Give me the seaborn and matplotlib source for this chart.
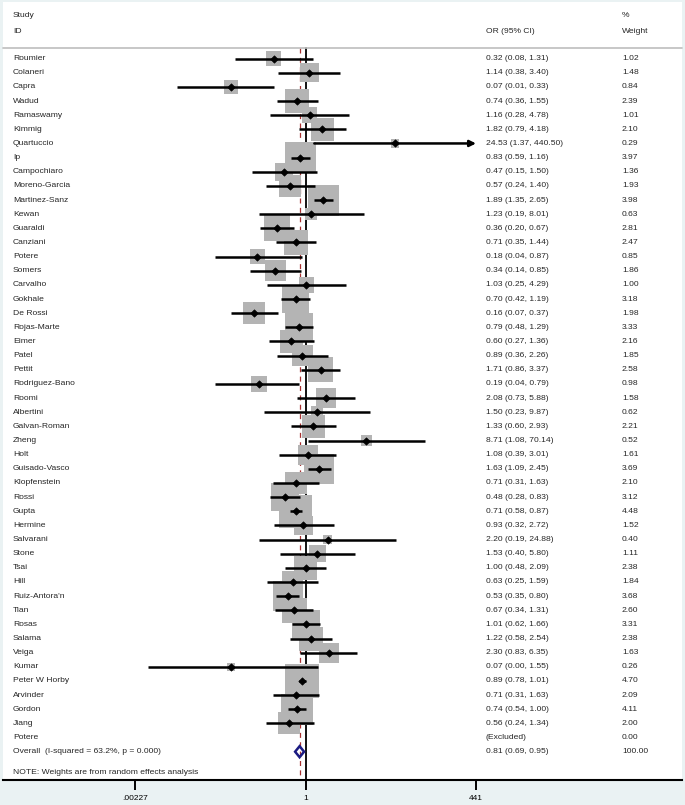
import numpy as np
import pandas as pd
import matplotlib
matplotlib.use("Agg")
import matplotlib.pyplot as plt
import seaborn as sns
from matplotlib.transforms import blended_transform_factory
from matplotlib.patches import Polygon
from matplotlib.ticker import NullLocator

# ---------------- data ----------------
studies = ["Roumier", "Colaneri", "Capra", "Wadud", "Ramaswamy", "Kimmig", "Quartuccio", "Ip",
           "Campochiaro", "Moreno-Garcia", "Martinez-Sanz", "Kewan", "Guaraldi", "Canziani",
           "Potere", "Somers", "Carvalho", "Gokhale", "De Rossi", "Rojas-Marte", "Eimer", "Patel",
           "Pettit", "Rodriguez-Bano", "Roomi", "Albertini", "Galvan-Roman", "Zheng", "Holt",
           "Guisado-Vasco", "Klopfenstein", "Rossi", "Gupta", "Hermine", "Salvarani", "Stone",
           "Tsai", "Hill", "Ruiz-Antora'n", "Tian", "Rosas", "Salama", "Veiga", "Kumar",
           "Peter W Horby", "Arvinder", "Gordon", "Jiang", "Potere"]
odds = [0.32, 1.14, 0.07, 0.74, 1.16, 1.82, 24.53, 0.83, 0.47, 0.57, 1.89, 1.23, 0.36, 0.71,
        0.18, 0.34, 1.03, 0.70, 0.16, 0.79, 0.60, 0.89, 1.71, 0.19, 2.08, 1.50, 1.33, 8.71, 1.08,
        1.63, 0.71, 0.48, 0.71, 0.93, 2.20, 1.53, 1.00, 0.63, 0.53, 0.67, 1.01, 1.22, 2.30, 0.07,
        0.89, 0.71, 0.74, 0.56, np.nan]
ci_low = [0.08, 0.38, 0.01, 0.36, 0.28, 0.79, 1.37, 0.59, 0.15, 0.24, 1.35, 0.19, 0.20, 0.35,
          0.04, 0.14, 0.25, 0.42, 0.07, 0.48, 0.27, 0.36, 0.86, 0.04, 0.73, 0.23, 0.60, 1.08, 0.39,
          1.09, 0.31, 0.28, 0.58, 0.32, 0.19, 0.40, 0.48, 0.25, 0.35, 0.34, 0.62, 0.58, 0.83, 0.0036,
          0.78, 0.31, 0.54, 0.24, np.nan]
ci_high = [1.31, 3.40, 0.33, 1.55, 4.78, 4.18, 440.50, 1.16, 1.50, 1.40, 2.65, 8.01, 0.67, 1.44,
           0.87, 0.85, 4.29, 1.19, 0.37, 1.29, 1.36, 2.26, 3.37, 0.79, 5.88, 9.87, 2.93, 70.14, 3.01,
           2.45, 1.63, 0.83, 0.87, 2.72, 24.88, 5.80, 2.09, 1.59, 0.80, 1.31, 1.66, 2.54, 6.35, 1.55,
           1.01, 1.63, 1.00, 1.34, np.nan]
weights = [1.02, 1.48, 0.84, 2.39, 1.01, 2.10, 0.29, 3.97, 1.36, 1.93, 3.98, 0.63, 2.81, 2.47,
           0.85, 1.86, 1.00, 3.18, 1.98, 3.33, 2.16, 1.85, 2.58, 0.98, 1.58, 0.62, 2.21, 0.52, 1.61,
           3.69, 2.10, 3.12, 4.48, 1.52, 0.40, 1.11, 2.38, 1.84, 3.68, 2.60, 3.31, 2.38, 1.63, 0.26,
           4.70, 2.09, 4.11, 2.00, 0.00]

overall_label = "Overall  (I-squared = 63.2%, p = 0.000)"
overall_or, overall_low, overall_high, overall_weight = 0.81, 0.69, 0.95, 100.00
note_text = "NOTE: Weights are from random effects analysis"
header_left = ["Study", "ID"]
header_mid = "OR (95% CI)"
header_right = ["%", "Weight"]
tick_values = [1 / 440.5, 1, 440.5]
tick_labels = [".00227", "1", "441"]

# ---------------- layout ----------------
W, H = 685, 805
BG = "#EAF2F3"
sns.set_theme(style="white")
plt.rcParams["font.family"] = ["Liberation Sans", "DejaVu Sans"]

fig = plt.figure(figsize=(W / 100, H / 100), dpi=100, facecolor=BG)
ax_l, ax_r, ax_t, ax_b = 3, 682, 2, 780
ax = fig.add_axes([ax_l / W, (H - ax_b) / H, (ax_r - ax_l) / W, (ax_b - ax_t) / H])
ax.set_facecolor("white")

# log-x axis: range of the CI scale occupies fractions f0..f1 of the panel
f0 = (135 - ax_l) / (ax_r - ax_l)
f1 = (476 - ax_l) / (ax_r - ax_l)
lmin, lmax = np.log10(tick_values[0]), np.log10(tick_values[-1])
span = (lmax - lmin) / (f1 - f0)
xlo = lmin - f0 * span
ax.set_xscale("log")
ax.set_xlim(10 ** xlo, 10 ** (xlo + span))
ax.set_ylim(51.0, -4.0)

n = len(studies)
df = pd.DataFrame({"study": studies, "or": odds, "low": ci_low, "high": ci_high,
                   "weight": weights, "row": np.arange(n, dtype=float)})
valid = df.dropna().copy()
overall_row = n
note_row = n + 1.5
header_line_y = -0.74

# reference lines
ax.plot([1, 1], [header_line_y, 51.0], color="black", lw=1.3, zorder=1)
ax.plot([overall_or, overall_or], [header_line_y, 51.0], color="#a83232", lw=0.9,
        dashes=(4, 3.5), zorder=1)

# weight boxes
sns.scatterplot(data=valid, x="or", y="row", marker="s", s=(valid["weight"] * 125).to_numpy(),
                color="#b4b4b4", edgecolor="none", linewidth=0, ax=ax, zorder=2, legend=False)

# CI lines (arrow when CI reaches the plot limit)
xmax_ci = tick_values[-1]
for _, r in valid.iterrows():
    if r["high"] >= xmax_ci:
        ax.annotate("", xy=(r["high"], r["row"]), xytext=(r["low"], r["row"]),
                    arrowprops=dict(arrowstyle="-|>", color="black", lw=1.8,
                                    mutation_scale=9, shrinkA=0, shrinkB=0), zorder=3)
    else:
        ax.plot([r["low"], r["high"]], [r["row"], r["row"]], color="black", lw=1.8,
                solid_capstyle="butt", zorder=3)

# point estimates
sns.scatterplot(data=valid, x="or", y="row", marker="D", s=14, color="black",
                edgecolor="black", linewidth=0.5, ax=ax, zorder=4, legend=False)

# overall diamond
dh = 0.39
diamond = Polygon([(overall_low, overall_row), (overall_or, overall_row - dh),
                   (overall_high, overall_row), (overall_or, overall_row + dh)],
                  closed=True, facecolor="none", edgecolor="#1b1b82", lw=1.8, zorder=5)
ax.add_patch(diamond)

# text columns
trans = blended_transform_factory(ax.transAxes, ax.transData)
fs = 6.1
x_name = (13 - ax_l) / (ax_r - ax_l)
x_or = (486 - ax_l) / (ax_r - ax_l)
x_w = (622 - ax_l) / (ax_r - ax_l)
for _, r in df.iterrows():
    ax.text(x_name, r["row"], r["study"], transform=trans, ha="left", va="center", fontsize=fs)
    if np.isnan(r["or"]):
        ci_txt = "(Excluded)"
    else:
        ci_txt = f"{r['or']:.2f} ({r['low']:.2f}, {r['high']:.2f})"
    ax.text(x_or, r["row"], ci_txt, transform=trans, ha="left", va="center", fontsize=fs)
    ax.text(x_w, r["row"], f"{r['weight']:.2f}", transform=trans, ha="left", va="center",
            fontsize=fs)

ax.text(x_name, overall_row, overall_label, transform=trans, ha="left", va="center", fontsize=fs)
ax.text(x_or, overall_row, f"{overall_or:.2f} ({overall_low:.2f}, {overall_high:.2f})",
        transform=trans, ha="left", va="center", fontsize=fs)
ax.text(x_w, overall_row, f"{overall_weight:.2f}", transform=trans, ha="left", va="center",
        fontsize=fs)
ax.text(x_name, note_row, note_text, transform=trans, ha="left", va="center", fontsize=fs)

# header
ax.text(x_name, -3.08, header_left[0], transform=trans, ha="left", va="center", fontsize=fs)
ax.text(x_name, -1.94, header_left[1], transform=trans, ha="left", va="center", fontsize=fs)
ax.text(x_or, -1.94, header_mid, transform=trans, ha="left", va="center", fontsize=fs)
ax.text(x_w, -3.08, header_right[0], transform=trans, ha="left", va="center", fontsize=fs)
ax.text(x_w, -1.94, header_right[1], transform=trans, ha="left", va="center", fontsize=fs)
ax.plot([0, 1], [header_line_y, header_line_y], transform=trans, color="#bdbdbd", lw=1.2,
        clip_on=False)

# axes styling
for side in ["left", "right", "top"]:
    ax.spines[side].set_visible(False)
ax.spines["bottom"].set_color("black")
ax.spines["bottom"].set_linewidth(1.5)
ax.set_xticks(tick_values)
ax.set_xticklabels(tick_labels)
ax.xaxis.set_minor_locator(NullLocator())
ax.tick_params(axis="x", direction="out", length=7, width=1.4, labelsize=6, pad=4,
               colors="black", bottom=True)
ax.set_yticks([])
ax.set_xlabel("")
ax.set_ylabel("")

fig.savefig("out.png", dpi=100, facecolor=BG)
